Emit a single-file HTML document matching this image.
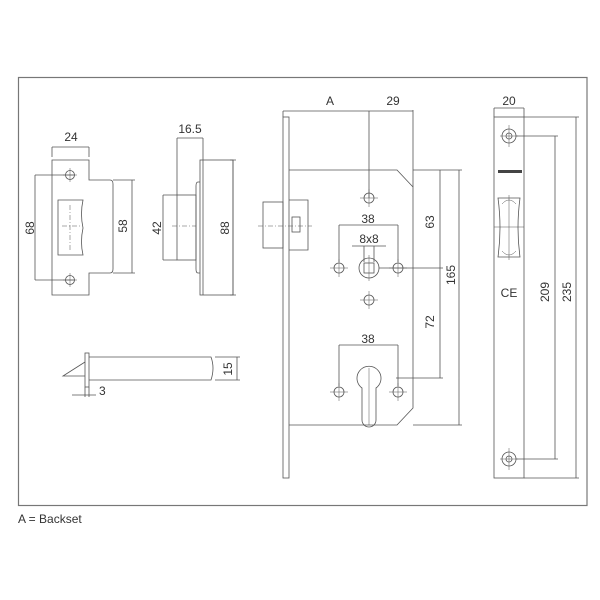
<!DOCTYPE html>
<html><head><meta charset="utf-8"><style>
body{margin:0;background:#fff;width:600px;height:600px;overflow:hidden}
svg{position:absolute;left:0;top:0}
text{font-family:"Liberation Sans",sans-serif;fill:#333;font-size:12px}
</style></head><body>
<svg width="600" height="600" viewBox="0 0 600 600">
<g fill="none" stroke="#555" stroke-width="0.8">
<rect x="18.5" y="77.5" width="568.5" height="428" stroke="#777" stroke-width="1.2"/>
<path d="M52 160 H89 V180 H110 Q113 180 113 184 V269 Q113 273 110 273 H89 V295 H52 Z"/>
<circle cx="70" cy="175" r="4.5"/><circle cx="70" cy="280" r="4.5"/>
<path d="M58 200 H83 Q80 214 83 228 Q80 242 83 255 H58 Z"/>
<path d="M52 147 V157 M89 147 V157 M52 147 H89"/>
<path d="M35 175 H75 M35 280 H75 M35 175 V280 M113 180 H135 M113 273 H135 M132 180 V273"/>
<path d="M62 226 H80 M70 205 V250" stroke-dasharray="5 2 1 2" stroke-width="0.5"/>
<path d="M70 168 V182 M63 175 H77 M70 273 V287 M63 280 H77" stroke-width="0.5"/>
<rect x="200" y="160" width="33" height="135"/>
<path d="M203 160 V295"/>
<path d="M200 182 H198 Q196 182 196 186 V269 Q196 273 198 273 H200"/>
<rect x="177" y="195" width="19" height="65"/>
<path d="M177 138 V195 M203 138 V160 M177 138 H203"/>
<path d="M163 195 H177 M163 260 H177 M163 195 V260 M233 160 V295 M230 160 H236 M230 295 H236"/>
<path d="M172 226 H196" stroke-dasharray="5 2 1 2" stroke-width="0.5"/>
<rect x="85" y="353" width="4" height="34"/>
<path d="M89 357 H211 Q215 368 211 380 H89"/>
<path d="M85 362 L63 376 H85"/>
<path d="M237 357 V380 M215 357 H240 M215 380 H240"/>
<path d="M85 387 V397 M89 387 V397 M72 395 H96"/>
<rect x="283" y="117" width="6" height="361"/>
<path d="M289 170 H397 L413 187 V408 L397 425 H289"/>
<path d="M413 110 V187 M283 111 H413 M369 111 V198 M283 111 V117"/>
<rect x="263" y="202" width="20" height="46"/>
<path d="M289 200 H308 V250 H289"/>
<rect x="292" y="217" width="8" height="15"/>
<path d="M258 226 H312" stroke-dasharray="5 2 1 2" stroke-width="0.5"/>
<circle cx="369" cy="198" r="5"/><circle cx="369" cy="300" r="5"/>
<circle cx="339" cy="268" r="5"/><circle cx="398" cy="268" r="5"/>
<circle cx="369" cy="268" r="10"/><rect x="364" y="263" width="10" height="10"/>
<path d="M360 198 H378 M369 189 V207 M360 300 H378 M369 291 V309 M330 268 H348 M339 259 V277 M389 268 H407 M398 259 V277 M369 255 V281" stroke-width="0.5"/>
<path d="M339 225 V262 M398 225 V262 M339 225 H398 M364 246 V262 M374 246 V262 M352 246 H386"/>
<path d="M379 268 H443 M440 170 V378 M413 170 H462 M413 425 H462 M459 170 V425 M396 378 H443"/>
<path d="M362 420 V388 A12 12 0 1 1 376 388 V420 A7 7 0 0 1 362 420 Z"/>
<circle cx="339" cy="392" r="5"/><circle cx="398" cy="392" r="5"/>
<path d="M330 392 H348 M339 383 V401 M389 392 H407 M398 383 V401 M369 368 V425" stroke-width="0.5"/>
<path d="M339 345 V386 M398 345 V386 M339 345 H398"/>
<rect x="494" y="117" width="30" height="361"/>
<path d="M494 108 V117 M524 108 V117 M494 108 H524"/>
<circle cx="509" cy="136" r="7"/><circle cx="509" cy="136" r="3"/>
<circle cx="509" cy="459" r="7"/><circle cx="509" cy="459" r="3"/>
<path d="M500 136 H518 M509 125 V147 M500 459 H518 M509 448 V470" stroke-width="0.5"/>
<path d="M498 198 H520 Q516 228 520 257 H498 Q502 228 498 198 Z"/>
<path d="M502 204 Q509 196 516 204 M502 251 Q509 259 516 251 M494 227 H524 M509 195 V260" stroke-width="0.5"/>
<path d="M516 136 H558 M516 459 H558 M555 136 V459 M524 117 H579 M524 478 H579 M576 117 V478"/>
</g>
<rect x="498" y="170" width="24" height="3" fill="#444"/>
<text x="71" y="141" text-anchor="middle">24</text>
<text x="190" y="133" text-anchor="middle">16.5</text>
<text transform="translate(34,228) rotate(-90)" text-anchor="middle">68</text>
<text transform="translate(127,226) rotate(-90)" text-anchor="middle">58</text>
<text transform="translate(161,228) rotate(-90)" text-anchor="middle">42</text>
<text transform="translate(229,228) rotate(-90)" text-anchor="middle">88</text>
<text transform="translate(232,369) rotate(-90)" text-anchor="middle">15</text>
<text x="99" y="395">3</text>
<text x="330" y="105" text-anchor="middle">A</text>
<text x="393" y="105" text-anchor="middle">29</text>
<text x="368" y="223" text-anchor="middle">38</text>
<text x="369" y="243" text-anchor="middle">8x8</text>
<text x="368" y="343" text-anchor="middle">38</text>
<text transform="translate(434,222) rotate(-90)" text-anchor="middle">63</text>
<text transform="translate(434,322) rotate(-90)" text-anchor="middle">72</text>
<text transform="translate(455,275) rotate(-90)" text-anchor="middle">165</text>
<text x="509" y="105" text-anchor="middle">20</text>
<text x="509" y="297" text-anchor="middle" font-size="12">CE</text>
<text transform="translate(549,292) rotate(-90)" text-anchor="middle">209</text>
<text transform="translate(571,292) rotate(-90)" text-anchor="middle">235</text>
<text x="18" y="523" font-size="13">A = Backset</text>
</svg>
</body></html>
